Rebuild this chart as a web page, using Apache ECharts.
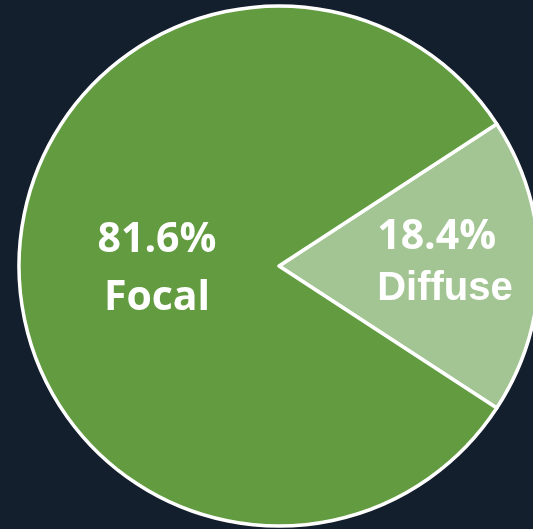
<!DOCTYPE html>
<html>
<head>
<meta charset="utf-8">
<script src="https://cdn.jsdelivr.net/npm/echarts@6/dist/echarts.min.js"></script>
<style>
  html, body { margin: 0; padding: 0; background: #141f2e; }
  #pie-echarts { width: 533px; height: 529px; }
</style>
</head>
<body>
<div id="pie-echarts"></div>
<script>
// 分类与占比
var categories = ["Diffuse", "Focal"];
var percents = [18.4, 81.6];
var colors = ["#a3c593", "#629b40"];

var seriesData = categories.map(function (name, i) {
  return { name: name, value: percents[i], itemStyle: { color: colors[i] } };
});
// Diffuse 标签左对齐，字体不同
seriesData[0].label = {
  formatter: "{p|{d}%}\n{n|{b}}",
  offset: [33, -3],
  rich: {
    p: { fontFamily: "Open Sans", fontWeight: "bold", fontSize: 41, color: "#fff", lineHeight: 52, align: "left" },
    n: { fontFamily: "Liberation Sans", fontWeight: "bold", fontSize: 40, color: "#fff", lineHeight: 52, align: "left" }
  }
};
seriesData[1].label = { offset: [11, 3] };

var option = {
  backgroundColor: "#141f2e",
  series: [
    {
      type: "pie",
      center: [279, 266],
      radius: [0, 260],
      startAngle: 33.12,
      clockwise: true,
      silent: true,
      itemStyle: {
        borderColor: "#ffffff",
        borderWidth: 3.5
      },
      label: {
        show: true,
        position: "inside",
        formatter: "{p|{d}%}\n{n|{b}}",
        rich: {
          p: { fontFamily: "Open Sans", fontWeight: "bold", fontSize: 41, color: "#fff", lineHeight: 58 },
          n: { fontFamily: "Open Sans", fontWeight: "bold", fontSize: 41, color: "#fff", lineHeight: 58 }
        }
      },
      labelLine: { show: false },
      data: seriesData
    }
  ]
};

var myChart = echarts.init(document.getElementById("pie-echarts"));
myChart.setOption(option);
</script>
</body>
</html>
